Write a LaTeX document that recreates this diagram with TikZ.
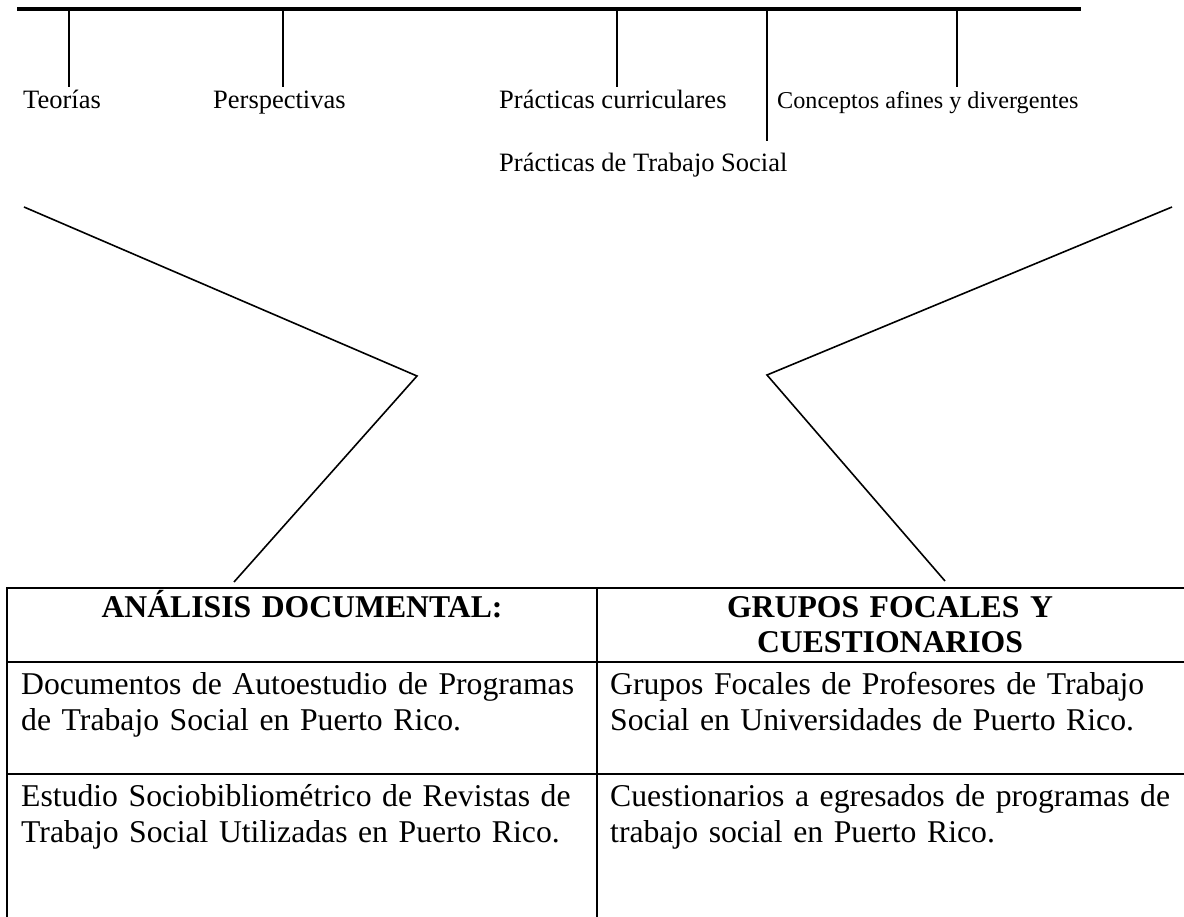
\documentclass[tikz,border=0pt]{standalone}
\usepackage{fontspec}
\setmainfont{Liberation Serif}
\usetikzlibrary{positioning}

\begin{document}
\begin{tikzpicture}[x=1pt,y=-1pt,
  lab/.style={anchor=base west,inner sep=0pt,font=\fontsize{26.5}{30}\selectfont},
  cell/.style={anchor=base west,inner sep=0pt,text width=560pt,align=left,font=\fontsize{31.7}{36}\selectfont},
  head/.style={anchor=base,inner sep=0pt,text width=560pt,align=center,font=\fontsize{31.7}{35}\selectfont\bfseries},
  tick/.style={line width=2pt},
  rule/.style={line width=1.8pt},
  leg/.style={line width=1.6pt}]
\useasboundingbox (0,0) rectangle (1184,917);

% top bar with its ticks
\coordinate (bar-l) at (17,9);
\coordinate (bar-r) at (1081,9);
\draw[line width=4pt] (bar-l) -- (bar-r);
\foreach \n/\x/\y in {teo/69/87,per/283/87,cur/617/87,tso/767/141,con/957/87}{
  \coordinate (\n-a) at (\x,9);
  \coordinate (\n-b) at (\x,\y);
  \draw[tick] (\n-a) -- (\n-b);
}

% labels under the bar
\node[lab] (teorias) at (23,109) {Teorías};
\node[lab] (perspectivas) at (213,109) {Perspectivas};
\node[lab] (curriculares) at (499,109) {Prácticas curriculares};
\node[lab,font=\fontsize{24.2}{28}\selectfont] (conceptos) at (777,109) {Conceptos afines y divergentes};
\node[lab] (trabajo) at (499,172) {Prácticas de Trabajo Social};

% the two bent legs
\coordinate (l-top) at (24,207);
\coordinate (l-mid) at (417,376);
\coordinate (l-bot) at (234,582);
\draw[leg] (l-top) -- (l-mid) -- (l-bot);
\coordinate (r-top) at (1172,207);
\coordinate (r-mid) at (767,375);
\coordinate (r-bot) at (945,581);
\draw[leg] (r-top) -- (r-mid) -- (r-bot);

% table
\coordinate (tab-nw) at (7,588);
\coordinate (tab-ne) at (1184,588);
\coordinate (tab-sw) at (7,917);
\coordinate (mid-n) at (597,588);
\coordinate (mid-s) at (597,917);
\draw[rule] (tab-sw) -- (tab-nw) -- (tab-ne);
\draw[rule] (mid-n) -- (mid-s);
\draw[rule] (7,662) -- (1184,662);
\draw[rule] (7,774) -- (1184,774);

\node[head] (h-doc) at (302,617) {ANÁLISIS DOCUMENTAL:};
\node[head] (h-gru) at (890,617) {GRUPOS FOCALES Y\\CUESTIONARIOS};

\node[cell] (c-auto) at (21,694) {Documentos de Autoestudio de Programas\\de Trabajo Social en Puerto Rico.};
\node[cell] (c-focal) at (610,694) {Grupos Focales de Profesores de Trabajo\\Social en Universidades de Puerto Rico.};
\node[cell] (c-revistas) at (21,806) {Estudio Sociobibliométrico de Revistas de\\Trabajo Social Utilizadas en Puerto Rico.};
\node[cell] (c-cuest) at (610,806) {Cuestionarios a egresados de programas de\\trabajo social en Puerto Rico.};
\end{tikzpicture}
\end{document}
